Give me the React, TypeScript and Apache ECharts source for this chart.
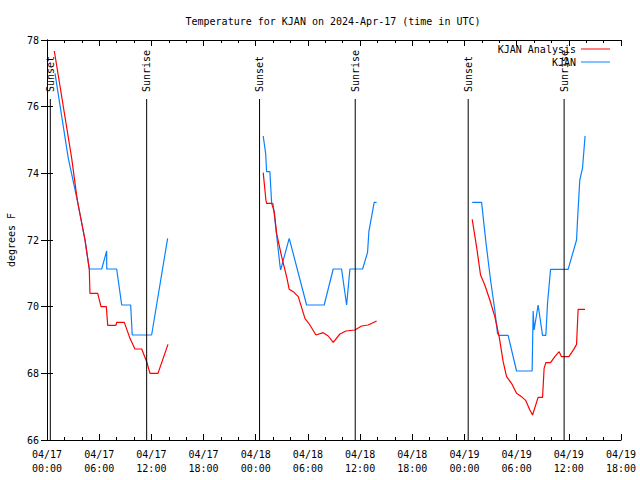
import React, { useEffect, useRef } from "react";
import * as echarts from "echarts";

// Hours since 2024-04-17 00:00 UTC; null separates days
const analysisHours: (number | null)[] = [
  0.84, 2.84, 3.48, 4.37, 4.86, 4.94, 5.83, 6.21, 6.82, 6.98, 7.93, 8.01, 8.89, 9.54, 10.11, 10.89, 11.46, 11.84, 12.76, 13.91,
  null,
  24.86, 25.17, 25.25, 25.83, 26.13, 26.4, 26.98, 27.55, 27.85, 28.31, 28.89, 29.66, 30.23, 30.92, 31.76, 32.33, 32.91, 33.68, 34.37, 35.4, 36.17, 36.93, 37.9,
  null,
  48.89, 49.39, 49.85, 50.34, 50.92, 51.49, 51.99, 52.45, 52.84, 53.41, 53.99, 54.56, 55.06, 55.52, 55.83, 56.47, 56.98, 57.16, 57.36, 57.9, 58.39, 58.89, 59.16, 60.0, 60.57, 60.89, 61.07, 61.87,
];
const analysisTemps: (number | null)[] = [
  77.67, 74.45, 73.2, 72.0, 71.13, 70.4, 70.4, 70.0, 70.0, 69.44, 69.44, 69.53, 69.53, 69.05, 68.73, 68.73, 68.35, 68.0, 68.0, 68.87,
  null,
  74.02, 73.2, 73.1, 73.1, 72.85, 72.2, 71.5, 70.9, 70.52, 70.45, 70.3, 69.65, 69.45, 69.15, 69.22, 69.12, 68.93, 69.18, 69.27, 69.3, 69.42, 69.45, 69.57,
  null,
  72.62, 71.8, 70.95, 70.65, 70.2, 69.7, 69.1, 68.35, 67.9, 67.7, 67.4, 67.3, 67.18, 66.9, 66.75, 67.28, 67.28, 68.15, 68.32, 68.32, 68.5, 68.65, 68.5, 68.5, 68.72, 68.87, 69.92, 69.92,
];

const obsHours: (number | null)[] = [
  0.92, 2.45, 3.48, 4.37, 4.86, 6.29, 6.86, 6.87, 8.01, 8.59, 9.62, 9.8, 12.03, 13.87,
  null,
  24.86, 25.14, 25.25, 25.63, 25.83, 25.98, 26.21, 26.78, 26.86, 27.85, 29.85, 31.87, 32.91, 33.87, 34.45, 34.83, 36.29, 36.86, 37.01, 37.62, 37.9,
  null,
  48.89, 49.97, 50.46, 51.0, 51.49, 51.8, 51.95, 53.02, 53.99, 55.78, 55.9, 56.01, 56.47, 56.98, 57.36, 57.55, 57.9, 59.92, 60.89, 61.0, 61.26, 61.57, 61.87,
];
const obsTemps: (number | null)[] = [
  77.0, 74.45, 73.2, 72.0, 71.13, 71.13, 71.67, 71.13, 71.13, 70.05, 70.05, 69.15, 69.15, 72.05,
  null,
  75.12, 74.6, 74.05, 74.05, 73.1, 73.1, 72.6, 71.25, 71.1, 72.05, 70.05, 70.05, 71.13, 71.13, 70.05, 71.13, 71.13, 71.63, 72.25, 73.13, 73.13,
  null,
  73.13, 73.13, 71.95, 70.8, 69.9, 69.2, 69.14, 69.14, 68.07, 68.07, 69.87, 69.3, 70.05, 69.14, 69.14, 70.1, 71.12, 71.12, 72.0, 72.6, 73.8, 74.15, 75.12,
];

const eventHours = [0.38, 11.46, 24.44, 35.44, 48.43, 59.46];
const eventLabels = ["Sunset", "Sunrise", "Sunset", "Sunrise", "Sunset", "Sunrise"];

const xTickLabels = [
  "04/17\n00:00", "04/17\n06:00", "04/17\n12:00", "04/17\n18:00",
  "04/18\n00:00", "04/18\n06:00", "04/18\n12:00", "04/18\n18:00",
  "04/19\n00:00", "04/19\n06:00", "04/19\n12:00", "04/19\n18:00",
];

const FONT = "DejaVu Sans Mono";

function pairs(xs: (number | null)[], ys: (number | null)[]) {
  return xs.map((x, i) => (x === null || ys[i] === null ? ["-", "-"] : [x, ys[i]]));
}

export default function App() {
  const ref = useRef<HTMLDivElement>(null);
  useEffect(() => {
    if (!ref.current) return;
    const chart = echarts.init(ref.current, null, { renderer: "svg" });
    const axisCommon = {
      type: "value" as const,
      axisLine: { show: true, lineStyle: { color: "#000", width: 1 } },
      splitLine: { show: false },
    };
    const legendCommon = {
      right: 30,
      align: "right",
      icon: "rect",
      itemWidth: 29,
      itemHeight: 1,
      padding: 0,
      textStyle: { fontFamily: FONT, fontSize: 10, color: "#000" },
    };
    chart.setOption({
      animation: false,
      backgroundColor: "#fff",
      textStyle: { fontFamily: FONT, fontSize: 10, color: "#000" },
      title: {
        text: "Temperature for KJAN on 2024-Apr-17 (time in UTC)",
        left: 328,
        top: 11,
        textAlign: "center",
        textStyle: { fontFamily: FONT, fontSize: 10, fontWeight: "normal", color: "#000" },
      },
      legend: [
        { ...legendCommon, data: ["KJAN Analysis"], top: 44 },
        { ...legendCommon, data: ["KJAN"], top: 57 },
      ],
      grid: { left: 47, right: 19, top: 40, bottom: 40, containLabel: false, outerBoundsMode: "none" },
      xAxis: [
        {
          ...axisCommon,
          position: "bottom",
          min: 0,
          max: 66,
          interval: 6,
          axisTick: { show: true, inside: true, length: 6, lineStyle: { color: "#000" } },
          minorTick: { show: true, splitNumber: 3, length: 3, lineStyle: { color: "#000" } },
          axisLabel: {
            margin: 7,
            lineHeight: 14,
            fontFamily: FONT,
            fontSize: 10,
            color: "#000",
            formatter: (v: number) => xTickLabels[Math.round(v / 6)] ?? "",
          },
        },
        {
          ...axisCommon,
          position: "top",
          min: 0,
          max: 66,
          interval: 6,
          axisTick: { show: true, inside: true, length: 6, lineStyle: { color: "#000" } },
          minorTick: { show: true, splitNumber: 3, length: 3, lineStyle: { color: "#000" } },
          axisLabel: { show: false },
        },
      ],
      yAxis: [
        {
          ...axisCommon,
          position: "left",
          min: 66,
          max: 78,
          interval: 2,
          name: "degrees F",
          nameLocation: "middle",
          nameGap: 31,
          nameRotate: 90,
          nameTextStyle: { fontFamily: FONT, fontSize: 10, color: "#000" },
          axisTick: { show: true, inside: true, length: 6, lineStyle: { color: "#000" } },
          axisLabel: { margin: 8, fontFamily: FONT, fontSize: 10, color: "#000" },
        },
        {
          ...axisCommon,
          position: "right",
          min: 66,
          max: 78,
          interval: 2,
          axisTick: { show: true, inside: true, length: 6, lineStyle: { color: "#000" } },
          axisLabel: { show: false },
        },
      ],
      series: [
        {
          name: "KJAN Analysis",
          type: "line",
          xAxisIndex: 0,
          yAxisIndex: 0,
          data: pairs(analysisHours, analysisTemps),
          showSymbol: false,
          symbol: "none",
          color: "#ff0000",
          lineStyle: { color: "#ff0000", width: 1.2 },
          z: 3,
        },
        {
          name: "KJAN",
          type: "line",
          xAxisIndex: 0,
          yAxisIndex: 0,
          data: pairs(obsHours, obsTemps),
          showSymbol: false,
          symbol: "none",
          color: "#0a80ff",
          lineStyle: { color: "#0a80ff", width: 1.2 },
          z: 2,
        },
        {
          type: "custom",
          xAxisIndex: 0,
          yAxisIndex: 0,
          data: eventHours.map((h) => [h, 66]),
          encode: { x: 0, y: 1 },
          z: 4,
          renderItem: (params: any, api: any) => {
            const t = api.value(0);
            const top = api.coord([t, 76.23]);
            const bot = api.coord([t, 66]);
            return {
              type: "group",
              children: [
                {
                  type: "line",
                  shape: { x1: top[0], y1: top[1], x2: bot[0], y2: bot[1] },
                  style: { stroke: "#000", lineWidth: 1 },
                },
                {
                  type: "text",
                  x: top[0],
                  y: top[1] - 7,
                  rotation: Math.PI / 2,
                  style: {
                    text: eventLabels[params.dataIndex],
                    fill: "#000",
                    fontSize: 10,
                    fontFamily: FONT,
                    align: "left",
                    verticalAlign: "middle",
                  },
                },
              ],
            };
          },
        },
      ],
    });
    return () => chart.dispose();
  }, []);
  return <div ref={ref} style={{ width: 640, height: 480, position: "absolute", left: 0, top: 0 }} />;
}
